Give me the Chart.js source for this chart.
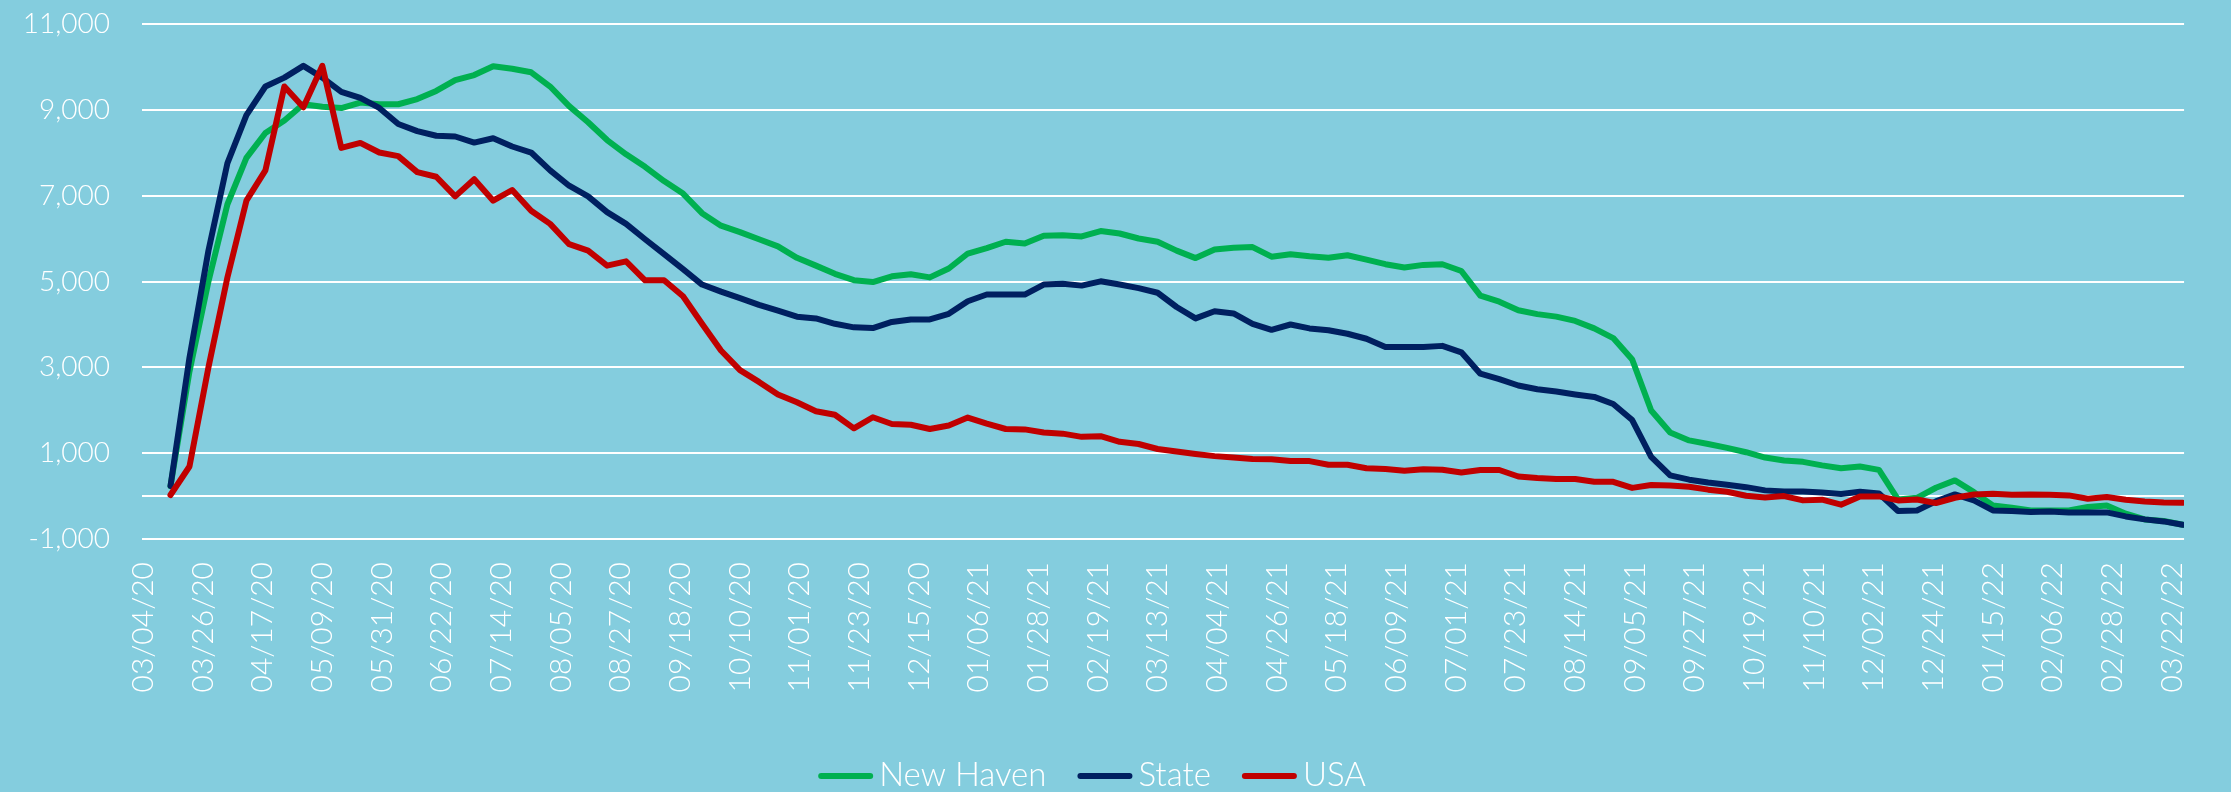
<!DOCTYPE html>
<html>
<head>
<meta charset="utf-8">
<title>Weekly cases</title>
<script src="https://cdn.jsdelivr.net/npm/chart.js@4.4.1/dist/chart.umd.min.js"></script>
<style>
  html, body { margin: 0; padding: 0; background: #84CDDE; }
  #wrap { width: 2231px; height: 792px; position: relative; }
</style>
</head>
<body>
<div id="wrap"><canvas id="cases"></canvas></div>
<script>
// weekly values, first week ending 03/14/20
const newHaven = [
  230, 2900, 5000, 6800, 7880, 8460, 8750, 9130, 9070, 9040,
  9170, 9130, 9130, 9250, 9440, 9690, 9810, 10017, 9958, 9875,
  9543, 9086, 8711, 8296, 7963, 7673, 7340, 7049, 6592, 6301,
  6151, 5985, 5818, 5552, 5370, 5179, 5030, 4988, 5121, 5170,
  5096, 5303, 5652, 5777, 5927, 5885, 6068, 6076, 6051, 6176,
  6118, 6002, 5927, 5719, 5545, 5744, 5786, 5802, 5578, 5636,
  5586, 5553, 5611, 5511, 5403, 5328, 5387, 5403, 5245, 4672,
  4530, 4331, 4240, 4181, 4081, 3907, 3682, 3184, 1995, 1480,
  1297, 1214, 1122, 1022, 898, 831, 798, 715, 648, 690,
  610, -78, -40, 194, 365, 93, -217, -272, -334, -334,
  -334, -256, -217, -411, -543, -582, -668
];
const state = [
  233, 3225, 5719, 7756, 8878, 9543, 9751, 10025, 9751, 9418,
  9277, 9044, 8670, 8504, 8396, 8379, 8237, 8337, 8146, 8005,
  7589, 7232, 6983, 6617, 6342, 5985, 5636, 5287, 4929, 4763,
  4613, 4456, 4323, 4181, 4140, 4015, 3932, 3915, 4057, 4115,
  4115, 4248, 4539, 4696, 4696, 4696, 4929, 4946, 4904, 5004,
  4929, 4846, 4738, 4406, 4140, 4306, 4256, 4015, 3874, 3998,
  3907, 3865, 3782, 3666, 3475, 3475, 3475, 3500, 3350, 2851,
  2727, 2577, 2490, 2436, 2369, 2311, 2145, 1771, 914, 482,
  382, 316, 266, 208, 133, 108, 108, 83, 50, 100,
  60, -349, -334, -124, 39, -101, -334, -349, -373, -357,
  -380, -380, -380, -474, -543, -590, -668
];
const usa = [
  25, 690, 3000, 5096, 6883, 7589, 9543, 9061, 10025, 8113,
  8229, 8005, 7922, 7548, 7440, 6983, 7382, 6883, 7132, 6650,
  6342, 5869, 5719, 5370, 5470, 5029, 5029, 4655, 4015, 3392,
  2934, 2660, 2369, 2186, 1978, 1895, 1579, 1837, 1679, 1663,
  1563, 1646, 1829, 1687, 1563, 1554, 1480, 1455, 1380, 1397,
  1264, 1214, 1097, 1039, 981, 931, 898, 864, 856, 815,
  815, 731, 731, 648, 632, 590, 623, 615, 549, 607,
  607, 457, 420, 399, 399, 333, 333, 191, 258, 249,
  216, 150, 100, 8, -33, 0, -100, -83, -200, -8,
  -8, -101, -78, -163, -39, 39, 54, 31, 39, 31,
  16, -62, -23, -85, -124, -147, -155
];

const tickLabels = [
  '03/04/20', '03/26/20', '04/17/20', '05/09/20', '05/31/20', '06/22/20', '07/14/20',
  '08/05/20', '08/27/20', '09/18/20', '10/10/20', '11/01/20', '11/23/20', '12/15/20',
  '01/06/21', '01/28/21', '02/19/21', '03/13/21', '04/04/21', '04/26/21', '05/18/21',
  '06/09/21', '07/01/21', '07/23/21', '08/14/21', '09/05/21', '09/27/21', '10/19/21',
  '11/10/21', '12/02/21', '12/24/21', '01/15/22', '02/06/22', '02/28/22', '03/22/22'
];
const yTicks = [-1000, 0, 1000, 3000, 5000, 7000, 9000, 11000];

const firstWeek = '03/14/20';
const axisStart = '03/04/20';
const axisEnd = '03/26/22';

const FONT = 'Lato, "Open Sans", sans-serif';
const BG = '#84CDDE';

// days since axisStart for an mm/dd/yy string
function dayOf(s) {
  const p = s.split('/').map(Number);
  const q = axisStart.split('/').map(Number);
  return (Date.UTC(2000 + p[2], p[0] - 1, p[1]) - Date.UTC(2000 + q[2], q[0] - 1, q[1])) / 86400000;
}

const weekDays = newHaven.map((_, i) => dayOf(firstWeek) + 7 * i);

const background = {
  id: 'background',
  beforeDraw(chart) {
    const ctx = chart.ctx;
    ctx.save();
    ctx.fillStyle = BG;
    ctx.fillRect(0, 0, chart.width, chart.height);
    ctx.restore();
  }
};

// legend with short line samples, text right next to the line
const lineLegend = {
  id: 'lineLegend',
  afterDraw(chart) {
    const ctx = chart.ctx;
    ctx.save();
    ctx.font = '300 33px ' + FONT;
    const sw = 55, gap = 6, between = 31;
    const items = chart.data.datasets.map(ds => ({
      text: ds.label, color: ds.borderColor, w: ctx.measureText(ds.label).width
    }));
    const total = items.reduce((s, it) => s + sw + gap + it.w, 0) + between * (items.length - 1);
    let x = 1092 - total / 2;
    const y = 776;
    items.forEach(it => {
      ctx.strokeStyle = it.color;
      ctx.lineWidth = 6;
      ctx.lineCap = 'round';
      ctx.beginPath();
      ctx.moveTo(x + 3, y);
      ctx.lineTo(x + sw - 3, y);
      ctx.stroke();
      ctx.fillStyle = '#FFFFFF';
      ctx.textAlign = 'left';
      ctx.textBaseline = 'middle';
      ctx.fillText(it.text, x + sw + gap, y - 1);
      x += sw + gap + it.w + between;
    });
    ctx.restore();
  }
};

new Chart(document.getElementById('cases'), {
  type: 'line',
  data: {
    labels: weekDays,
    datasets: [
      { label: 'New Haven', data: newHaven, borderColor: '#00B050', backgroundColor: '#00B050', order: 3 },
      { label: 'State', data: state, borderColor: '#002060', backgroundColor: '#002060', order: 2 },
      { label: 'USA', data: usa, borderColor: '#C00000', backgroundColor: '#C00000', order: 1 }
    ]
  },
  options: {
    responsive: true,
    maintainAspectRatio: false,
    animation: false,
    layout: { padding: { top: 24, right: 23, bottom: 40, left: 0 } },
    elements: {
      point: { radius: 0 },
      line: { borderWidth: 6, borderCapStyle: 'round', borderJoinStyle: 'round', tension: 0, fill: false }
    },
    plugins: {
      legend: { display: false },
      tooltip: { enabled: false }
    },
    scales: {
      x: {
        type: 'linear',
        min: dayOf(axisStart) - 0.5,
        max: dayOf(axisEnd) + 0.5,
        grid: { display: false, drawTicks: false },
        border: { display: false },
        afterBuildTicks: s => { s.ticks = tickLabels.map(l => ({ value: dayOf(l) })); },
        afterFit: s => { s.height = 213; },
        ticks: {
          autoSkip: false,
          minRotation: 90,
          maxRotation: 90,
          padding: 23,
          color: '#FFFFFF',
          font: { family: FONT, size: 30, weight: '300' },
          callback: (v, i) => tickLabels[i]
        }
      },
      y: {
        min: -1000,
        max: 11000,
        afterBuildTicks: s => { s.ticks = yTicks.map(v => ({ value: v })); },
        afterFit: s => { s.width = 142; s.paddingTop = 0; s.paddingBottom = 0; },
        grid: { color: '#FFFFFF', lineWidth: 2, drawTicks: false },
        border: { display: false },
        ticks: {
          padding: 32,
          color: '#FFFFFF',
          font: { family: FONT, size: 28, weight: '300' },
          callback: v => v === 0 ? '' : v.toLocaleString('en-US')
        }
      }
    }
  },
  plugins: [background, lineLegend]
});
</script>
</body>
</html>
